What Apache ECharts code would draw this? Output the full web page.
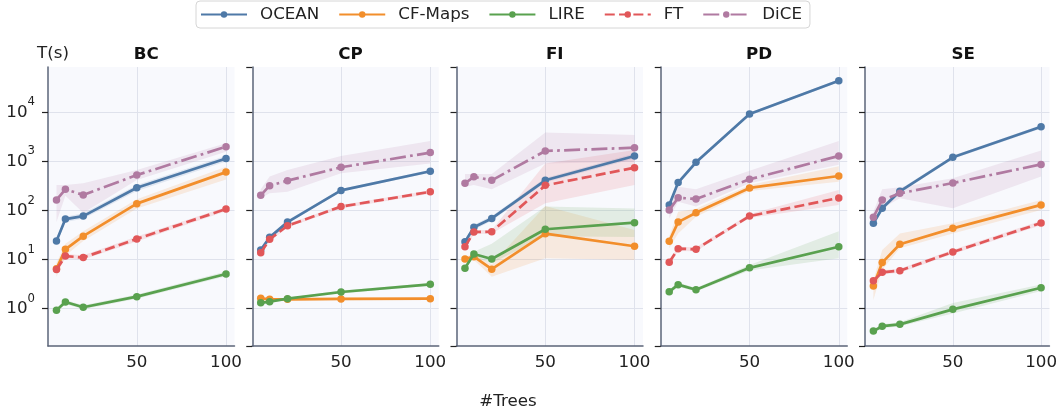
<!DOCTYPE html>
<html>
<head>
<meta charset="utf-8">
<script src="https://cdn.jsdelivr.net/npm/echarts@6/dist/echarts.min.js"></script>
<style>
  html, body { margin: 0; padding: 0; background: #fff; }
  #chart { width: 1060px; height: 410px; }
</style>
</head>
<body>
<div id="chart"></div>
<script>
// datasets (panels), methods and number of trees
const datasets = ['BC', 'CP', 'FI', 'PD', 'SE']
const methods = ['OCEAN', 'CF-Maps', 'LIRE', 'FT', 'DiCE']
const trees = [5, 10, 20, 50, 100]
const yTicks = [1, 10, 100, 1000, 10000]
const xTicks = [50, 100]

// mean runtime, one row per dataset (BC, CP, FI, PD, SE)
const oceanMean = [
  [24, 67, 77, 290, 1150],
  [15.7, 28.4, 58, 257, 630],
  [23, 45.5, 69, 412, 1290],
  [130, 370, 960, 9200, 44000],
  [55, 111, 246, 1210, 5100]
]
const oceanLo = [
  [21, 58, 68, 250, 1000],
  [14.5, 26, 54, 240, 590],
  [20, 40, 62, 370, 1150],
  [115, 330, 880, 8600, 41000],
  [48, 98, 225, 1120, 4700]
]
const oceanHi = [
  [27, 75, 88, 330, 1300],
  [17, 31, 63, 275, 680],
  [26, 51, 77, 460, 1450],
  [145, 410, 1050, 9800, 47000],
  [62, 125, 270, 1300, 5500]
]

const cfMean = [
  [6.5, 16.2, 30, 138, 605],
  [1.63, 1.55, 1.55, 1.58, 1.6],
  [10.3, 11.5, 6.4, 33.7, 18.7],
  [23.6, 58, 90, 288, 505],
  [2.9, 8.7, 20.5, 43.3, 130]
]
const cfLo = [
  [4.5, 12, 24, 110, 430],
  [1.5, 1.45, 1.45, 1.48, 1.5],
  [9.5, 9.8, 4.5, 10.6, 9.8],
  [17, 34, 75, 250, 385],
  [1.5, 6.2, 17, 34, 102]
]
const cfHi = [
  [8.5, 21, 38, 170, 780],
  [1.75, 1.65, 1.65, 1.68, 1.7],
  [11.5, 13, 8, 123, 40],
  [30, 94, 108, 330, 800],
  [3.8, 15.7, 34, 55, 163]
]

const lireMean = [
  [0.93, 1.37, 1.07, 1.76, 5.1],
  [1.32, 1.39, 1.6, 2.19, 3.14],
  [6.7, 13, 10.3, 41.5, 56.5],
  [2.22, 3.09, 2.44, 6.8, 18.3],
  [0.35, 0.44, 0.48, 0.97, 2.68]
]
const lireLo = [
  [0.85, 1.25, 0.98, 1.6, 4.6],
  [1.25, 1.32, 1.52, 2.05, 2.95],
  [6, 11.5, 8.4, 30, 29],
  [2.0, 2.8, 2.25, 6.0, 10.6],
  [0.32, 0.4, 0.44, 0.8, 2.3]
]
const lireHi = [
  [1.02, 1.5, 1.17, 1.95, 5.7],
  [1.4, 1.47, 1.68, 2.35, 3.35],
  [7.5, 14.5, 21, 120, 110],
  [2.45, 3.4, 2.65, 7.8, 38],
  [0.38, 0.48, 0.53, 1.3, 3.1]
]

const ftMean = [
  [6.3, 11.8, 11, 26.4, 107],
  [13.8, 26, 49, 120, 240],
  [18.3, 36.5, 37, 325, 745],
  [8.8, 16.7, 16.2, 77, 180],
  [3.7, 5.5, 5.95, 14.3, 55.6]
]
const ftLo = [
  [5.5, 10.5, 10, 23.5, 97],
  [12.5, 23.5, 45, 110, 220],
  [16.5, 33, 34, 140, 330],
  [8, 15, 14.8, 70, 129],
  [3.3, 5, 5.4, 13, 50]
]
const ftHi = [
  [7.2, 13, 12.2, 29.5, 118],
  [15, 28.5, 53, 130, 260],
  [20, 40, 40, 910, 1700],
  [9.6, 18.3, 17.8, 85, 263],
  [4.1, 6.1, 6.5, 15.8, 62]
]

const diceMean = [
  [164, 270, 207, 527, 1995],
  [204, 320, 405, 760, 1510],
  [357, 487, 412, 1630, 1900],
  [102, 182, 172, 432, 1290],
  [73, 163, 224, 363, 870]
]
const diceLo = [
  [58, 200, 89, 420, 1580],
  [180, 225, 240, 575, 910],
  [305, 330, 270, 910, 985],
  [69, 151, 120, 357, 850],
  [55, 111, 177, 111, 490]
]
const diceHi = [
  [330, 330, 360, 665, 2350],
  [270, 490, 665, 1290, 2600],
  [553, 553, 553, 3900, 3450],
  [140, 305, 270, 645, 2600],
  [94, 270, 297, 452, 1660]
]

const means = [oceanMean, cfMean, lireMean, ftMean, diceMean]
const los = [oceanLo, cfLo, lireLo, ftLo, diceLo]
const his = [oceanHi, cfHi, lireHi, ftHi, diceHi]
const colors = ['#4e79a7', '#f28e2b', '#59a14f', '#e15759', '#b07aa1']
const dashes = ['solid', 'solid', 'solid', [10, 4.3], [16, 4.3, 2.7, 4.3]]

const FONT = 'DejaVu Sans'
const FS = 16.7
const panelLeft = 48
const panelStep = 204.25
const panelWidth = 186.5
const panelTop = 67
const panelHeight = 279

const grids = []
const xAxes = []
const yAxes = []
const titles = []
const series = []

datasets.forEach((ds, i) => {
  const left = panelLeft + panelStep * i
  grids.push({
    left: left, top: panelTop, width: panelWidth, height: panelHeight,
    show: true, backgroundColor: '#f8f9fd', borderWidth: 0
  })
  xAxes.push({
    type: 'value', gridIndex: i, min: 0.25, max: 104.75, splitNumber: 2,
    axisLine: { show: true, lineStyle: { color: '#5b6478', width: 1.5 } },
    axisTick: { show: false },
    splitLine: { show: false },
    axisLabel: {
      margin: 8, fontFamily: FONT, fontSize: FS, color: '#222',
      showMinLabel: false, showMaxLabel: false,
      formatter: v => (xTicks.includes(v) ? String(v) : '')
    }
  })
  yAxes.push({
    type: 'log', gridIndex: i, min: 0.174, max: 83700, logBase: 10,
    axisLine: { show: true, lineStyle: { color: '#5b6478', width: 1.5 } },
    axisTick: { show: true, length: 6, lineStyle: { color: '#222', width: 1.2 } },
    splitLine: { show: false },
    axisLabel: {
      show: i === 0, margin: 13, fontFamily: FONT, color: '#222',
      showMinLabel: false, showMaxLabel: false,
      formatter: v => {
        const e = Math.round(Math.log10(v))
        if (Math.abs(Math.log10(v) - e) > 1e-6) return ''
        return '{b|10}{s|' + e + '}'
      },
      rich: {
        b: { fontFamily: FONT, fontSize: FS, color: '#222', lineHeight: 32, verticalAlign: 'middle' },
        s: { fontFamily: FONT, fontSize: 11.7, color: '#222', lineHeight: 32, verticalAlign: 'top' }
      }
    }
  })
  titles.push({
    text: ds, left: left + panelWidth / 2, top: 41, textAlign: 'center',
    textStyle: { fontFamily: FONT, fontSize: FS, fontWeight: 'bold', color: '#111' }
  })

  // grid lines through the library's scales
  series.push({
    type: 'line', xAxisIndex: i, yAxisIndex: i, data: [], silent: true, z: 0,
    markLine: {
      silent: true, symbol: 'none', z: 0, label: { show: false },
      lineStyle: { color: '#dfe2ec', width: 1, type: 'solid' },
      emphasis: { disabled: true },
      data: xTicks.map(v => ({ xAxis: v })).concat(yTicks.map(v => ({ yAxis: v })))
    }
  })

  methods.forEach((m, k) => {
    const lo = los[k][i]
    const hi = his[k][i]
    series.push({
      type: 'custom', name: m + ' band', xAxisIndex: i, yAxisIndex: i, z: 2,
      silent: true,
      data: [[trees[0], means[k][i][0]]],
      renderItem: (params, api) => {
        const top = trees.map((t, j) => api.coord([t, hi[j]]))
        const bot = trees.map((t, j) => api.coord([t, lo[j]])).reverse()
        return {
          type: 'polygon',
          shape: { points: top.concat(bot) },
          style: { fill: colors[k], opacity: 0.14 }
        }
      }
    })
  })
  methods.forEach((m, k) => {
    series.push({
      type: 'line', name: m, xAxisIndex: i, yAxisIndex: i, z: 10 + k,
      data: trees.map((t, j) => [t, means[k][i][j]]),
      symbol: 'circle', symbolSize: 7.5, showSymbol: true,
      color: colors[k],
      lineStyle: { width: 2.7, type: dashes[k], color: colors[k], cap: 'butt' },
      itemStyle: { color: colors[k] }
    })
  })
})

titles.push({
  text: 'T(s)', left: 32, top: 40,
  textStyle: { fontFamily: FONT, fontSize: FS, fontWeight: 'normal', color: '#222' }
})
titles.push({
  text: '#Trees', left: 503, top: 388, textAlign: 'center',
  textStyle: { fontFamily: FONT, fontSize: FS, fontWeight: 'normal', color: '#222' }
})

const chart = echarts.init(document.getElementById('chart'), null, { renderer: 'canvas' })
chart.setOption({
  animation: false,
  backgroundColor: '#fff',
  title: titles,
  legend: {
    data: methods, left: 196, top: 1,
    itemWidth: 46, itemHeight: 8, itemGap: 19,
    padding: [5, 8, 5, 4],
    borderColor: '#d6d6d6', borderWidth: 1, borderRadius: 4,
    textStyle: { fontFamily: FONT, fontSize: FS, color: '#222', padding: [0, 0, 0, 8] }
  },
  grid: grids,
  xAxis: xAxes,
  yAxis: yAxes,
  series: series
})
</script>
</body>
</html>
